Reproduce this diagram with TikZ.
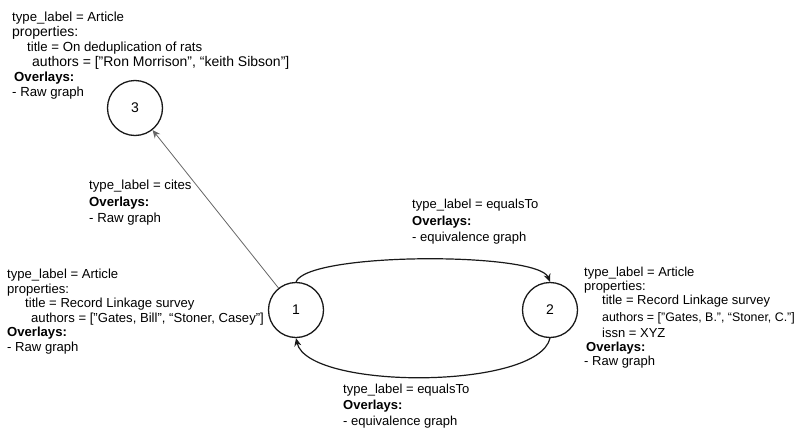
\documentclass[tikz,border=0pt]{standalone}
\usepackage{fontspec}
\setmainfont{Liberation Sans}
\usetikzlibrary{arrows.meta}

\begin{document}
\begin{tikzpicture}[x=1pt, y=-1pt,
  vertex/.style={draw=black!90, circle, line width=1.3pt, minimum size=55pt,
    inner sep=0pt, font=\fontsize{14}{16}\selectfont},
  info/.style={anchor=north west, align=left, inner sep=0pt,
    font=\fontsize{13.2}{15}\selectfont},
  link/.style={-{Stealth[length=8pt, width=7pt]}, line width=1.2pt, black!90},
  citelink/.style={-{Stealth[length=8pt, width=7pt]}, line width=0.8pt, black!60},
]
\useasboundingbox (0,0) rectangle (810,428);

% Vertices
\node[vertex] (v3) at (135,108) {3};
\node[vertex] (v1) at (296,310) {1};
\node[vertex] (v2) at (550,310) {2};

% Vertex properties
\node[info] (p3) at (12,12) {%
  type\_label = Article\\
  {\fontsize{14}{15}\selectfont properties:}\\
  \hspace*{15pt}title = On deduplication of rats\\
  \hspace*{20pt}{\fontsize{14}{15}\selectfont authors = ["Ron Morrison”, “keith Sibson"]}\\
  \hspace*{2pt}\textbf{Overlays:}\\
  - Raw graph
};
\node[info, font=\fontsize{13.1}{14.5}\selectfont] (p1) at (7,269) {%
  type\_label = Article\\
  properties:\\
  \hspace*{18pt}title = Record Linkage survey\\
  \hspace*{24pt}authors = ["Gates, Bill”, “Stoner, Casey"]\\
  \textbf{Overlays:}\\
  - Raw graph
};
\node[info, font=\fontsize{13}{14}\selectfont] (p2) at (584,267) {%
  type\_label = Article\\
  properties:\\
  \hspace*{18pt}title = Record Linkage survey\\[3pt]
  \hspace*{18pt}{\fontsize{12.4}{14}\selectfont authors = ["Gates, B.”, “Stoner, C."]}\\[2pt]
  \hspace*{18pt}issn = XYZ\\
  \hspace*{2pt}\textbf{Overlays:}\\
  - Raw graph
};

% Edge properties
\node[info, font=\fontsize{13.2}{16.5}\selectfont] (e13) at (89,180) {%
  type\_label = cites\\
  \textbf{Overlays:}\\
  - Raw graph
};
\node[info, font=\fontsize{13}{16.5}\selectfont] (e12) at (412,199) {%
  type\_label = equalsTo\\
  \textbf{Overlays:}\\
  - equivalence graph
};
\node[info, font=\fontsize{13}{16}\selectfont] (e21) at (343,384) {%
  type\_label = equalsTo\\
  \textbf{Overlays:}\\
  - equivalence graph
};

% Edges
\draw[citelink] (v1) -- (v3);
\draw[link] (v1.north) .. controls +(12,-30) and +(-12,-30) .. (v2.north);
\draw[link] (v2.south) .. controls +(-12,52) and +(12,52) .. (v1.south);
\end{tikzpicture}
\end{document}
